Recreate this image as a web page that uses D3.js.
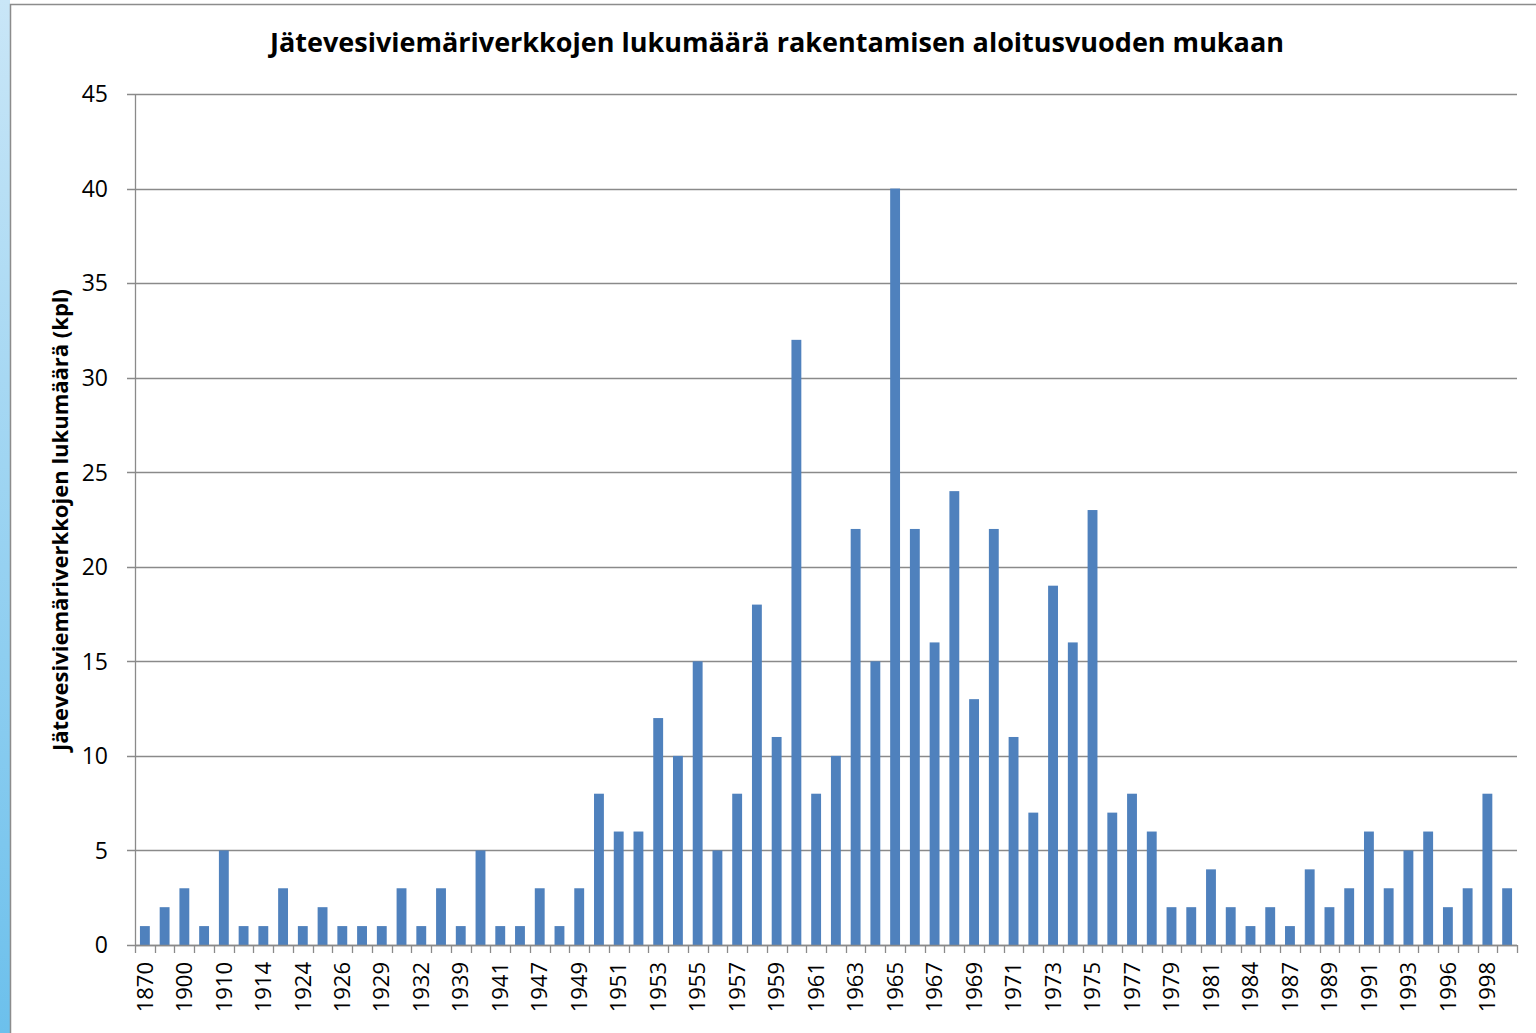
<!DOCTYPE html>
<html>
<head>
<meta charset="utf-8">
<script src="https://cdn.jsdelivr.net/npm/d3@7"></script>
<style>
  body { margin: 0; background: #fff; }
  svg { display: block; }
</style>
</head>
<body>
<svg id="chart"></svg>
<script>
// Chart size
var width = 1536;
var height = 1033;
var margin = {top: 94, right: 19, bottom: 88, left: 135};

// Data: start years (every other label is shown on the axis)
var years = [
  "1870","1890","1900","1905","1910","1912","1914","1920","1924","1925",
  "1926","1927","1929","1930","1932","1935","1939","1940","1941","1945",
  "1947","1948","1949","1950","1951","1952","1953","1954","1955","1956",
  "1957","1958","1959","1960","1961","1962","1963","1964","1965","1966",
  "1967","1968","1969","1970","1971","1972","1973","1974","1975","1976",
  "1977","1978","1979","1980","1981","1983","1984","1986","1987","1988",
  "1989","1990","1991","1992","1993","1995","1996","1997","1998","1999"
];
var counts = [
  1, 2, 3, 1, 5, 1, 1, 3, 1, 2,
  1, 1, 1, 3, 1, 3, 1, 5, 1, 1,
  3, 1, 3, 8, 6, 6, 12, 10, 15, 5,
  8, 18, 11, 32, 8, 10, 22, 15, 40, 22,
  16, 24, 13, 22, 11, 7, 19, 16, 23, 7,
  8, 6, 2, 2, 4, 2, 1, 2, 1, 4,
  2, 3, 6, 3, 5, 6, 2, 3, 8, 3
];
var yTicks = [0, 5, 10, 15, 20, 25, 30, 35, 40, 45];

var titleText = "Jätevesiviemäriverkkojen lukumäärä rakentamisen aloitusvuoden mukaan";
var yTitleText = "Jätevesiviemäriverkkojen lukumäärä (kpl)";

var data = years.map(function(y, i) { return {year: y, value: counts[i]}; });

var svg = d3.select("#chart")
    .attr("width", width)
    .attr("height", height);

// decorative blue swoosh on the left edge
var grad = svg.append("defs").append("linearGradient")
    .attr("id", "swoosh")
    .attr("x1", 0).attr("y1", 0).attr("x2", 0).attr("y2", 1);
grad.append("stop").attr("offset", "0%").attr("stop-color", "#c9e6f7");
grad.append("stop").attr("offset", "100%").attr("stop-color", "#6cc0ec");
svg.append("path")
    .attr("d", "M0,0 L10,0 L10,1033 L0,1033 Z")
    .attr("fill", "url(#swoosh)");

// chart frame
svg.append("rect")
    .attr("x", 10.5)
    .attr("y", 4.5)
    .attr("width", width + 20)
    .attr("height", height + 20)
    .attr("fill", "#fff")
    .attr("stroke", "#8c8c8c")
    .attr("stroke-width", 1.5);

var plotW = width - margin.left - margin.right;
var plotH = 851;

// scales
var xScale = d3.scaleBand()
    .domain(years)
    .range([margin.left, margin.left + plotW])
    .paddingInner(0.5)
    .paddingOuter(0.25);

var yScale = d3.scaleLinear()
    .domain([0, 45])
    .range([margin.top + plotH, margin.top]);

var y0 = yScale(0);

// gridlines
svg.append("g")
  .selectAll("line")
  .data(yTicks)
  .enter()
  .append("line")
    .attr("x1", margin.left - 8)
    .attr("x2", margin.left + plotW)
    .attr("y1", d => Math.round(yScale(d)) + 0.5)
    .attr("y2", d => Math.round(yScale(d)) + 0.5)
    .attr("stroke", "#8a8a8a")
    .attr("stroke-width", 1.3);

// y tick labels
svg.append("g")
  .selectAll("text")
  .data(yTicks)
  .enter()
  .append("text")
    .attr("x", margin.left - 27)
    .attr("y", d => yScale(d))
    .attr("dy", "0.36em")
    .attr("text-anchor", "end")
    .style("font-family", "'Open Sans', sans-serif")
    .style("font-size", "23px")
    .style("fill", "#000")
    .text(d => d);

// y axis line
svg.append("line")
    .attr("x1", margin.left + 0.5)
    .attr("x2", margin.left + 0.5)
    .attr("y1", margin.top)
    .attr("y2", y0)
    .attr("stroke", "#8a8a8a")
    .attr("stroke-width", 1.3);

// bars
svg.append("g")
  .selectAll("rect")
  .data(data)
  .enter()
  .append("rect")
    .attr("x", d => xScale(d.year))
    .attr("y", d => yScale(d.value))
    .attr("width", xScale.bandwidth())
    .attr("height", d => y0 - yScale(d.value))
    .attr("fill", "#4f81bd");

// x axis with tick marks at category boundaries
var boundaries = d3.range(years.length + 1).map(i => margin.left + i * plotW / years.length);
svg.append("g")
  .selectAll("line")
  .data(boundaries)
  .enter()
  .append("line")
    .attr("x1", d => Math.round(d) + 0.5)
    .attr("x2", d => Math.round(d) + 0.5)
    .attr("y1", y0)
    .attr("y2", y0 + 8)
    .attr("stroke", "#8a8a8a")
    .attr("stroke-width", 1.3);

svg.append("line")
    .attr("x1", margin.left)
    .attr("x2", margin.left + plotW)
    .attr("y1", Math.round(y0) + 0.5)
    .attr("y2", Math.round(y0) + 0.5)
    .attr("stroke", "#8a8a8a")
    .attr("stroke-width", 1.3);

// x labels, every other year, rotated
svg.append("g")
  .selectAll("text")
  .data(data.filter((d, i) => i % 2 === 0))
  .enter()
  .append("text")
    .attr("transform", d => "translate(" + (xScale(d.year) + xScale.bandwidth() / 2) + "," + (y0 + 17) + ") rotate(-90)")
    .attr("dy", "0.35em")
    .attr("text-anchor", "end")
    .style("font-family", "'Open Sans', sans-serif")
    .style("font-size", "22px")
    .style("fill", "#000")
    .text(d => d.year);

// title
svg.append("text")
    .attr("x", 777)
    .attr("y", 43)
    .attr("dy", "0.35em")
    .attr("text-anchor", "middle")
    .style("font-family", "'Open Sans', sans-serif")
    .style("font-weight", "bold")
    .style("font-size", "27px")
    .text(titleText);

// y axis title
svg.append("text")
    .attr("transform", "translate(60,520) rotate(-90)")
    .attr("dy", "0.35em")
    .attr("text-anchor", "middle")
    .style("font-family", "'Open Sans', sans-serif")
    .style("font-weight", "bold")
    .style("font-size", "22px")
    .text(yTitleText);
</script>
</body>
</html>
